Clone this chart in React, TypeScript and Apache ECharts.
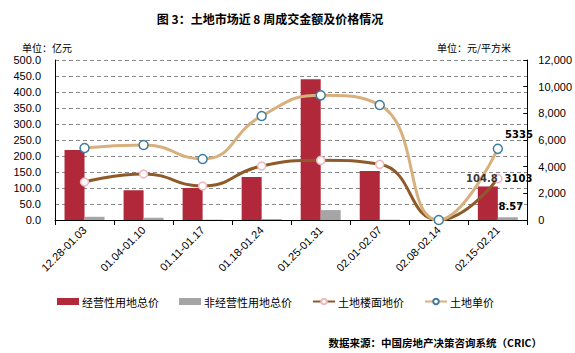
import React, { useEffect, useRef } from "react";
import * as echarts from "echarts";

const categories = ["12.28-01.03", "01.04-01.10", "01.11-01.17", "01.18-01.24", "01.25-01.31", "02.01-02.07", "02.08-02.14", "02.15-02.21"];
const operatingTotal = [219, 93, 100, 134, 440, 153, 0, 104.8];
const nonOperatingTotal = [10, 7, 1, 3, 31, 1, 0, 8.57];
const floorPrice = [2850, 3450, 2550, 4050, 4475, 4175, 0, 3103];
const unitPrice = [5400, 5625, 4575, 7800, 9350, 8625, 0, 5335];
const leftTicks = { min: 0, max: 500, interval: 50 };
const rightTicks = { min: 0, max: 12000, interval: 2000 };

const FONT = "'Noto Sans CJK SC', 'Liberation Sans', sans-serif";
const NUMFONT = "'Liberation Sans', Arial, sans-serif";

export default function App() {
  const ref = useRef<HTMLDivElement>(null);
  useEffect(() => {
    document.body.style.margin = "0";
    if (!ref.current) return;
    const chart = echarts.init(ref.current, null, { renderer: "svg" });
    const last = categories.length - 1;
    const lastLabel = (pos: string, offset: number[] = [0, 0]) => ({
      show: true,
      position: pos,
      offset,
      fontFamily: "'DejaVu Sans', sans-serif",
      fontSize: 10,
      fontWeight: "bold",
      color: "#000",
      distance: 3,
      formatter: (p: any) => (p.dataIndex === last ? String(p.value) : ""),
    });
    chart.setOption({
      animation: false,
      textStyle: { fontFamily: FONT },
      title: [
        { text: "图 3：土地市场近 8 周成交金额及价格情况", left: 265, top: 7, textAlign: "center", textStyle: { fontSize: 12, fontWeight: "bold", color: "#000", fontFamily: FONT } },
        { text: "单位：亿元", left: 17, top: 37, textStyle: { fontSize: 10, fontWeight: "normal", color: "#000", fontFamily: FONT } },
        { text: "单位：元/平方米", right: 59, top: 37, textStyle: { fontSize: 10, fontWeight: "normal", color: "#000", fontFamily: FONT } },
        { text: "数据来源：中国房地产决策咨询系统（CRIC）", right: 28, top: 332, textStyle: { fontSize: 10.5, fontWeight: "bold", color: "#000", fontFamily: FONT } },
      ],
      legend: {
        left: 52,
        top: 291,
        itemGap: 20,
        itemWidth: 22,
        itemHeight: 7,
        textStyle: { fontSize: 11, color: "#000", fontFamily: FONT, padding: [0, 0, 0, -2] },
        data: [
          { name: "经营性用地总价", icon: "rect" },
          { name: "非经营性用地总价", icon: "rect" },
          { name: "土地楼面地价" },
          { name: "土地单价" },
        ],
      },
      grid: { left: 55, right: 47, top: 60, bottom: 133, containLabel: false },
      xAxis: {
        type: "category",
        data: categories,
        axisLine: { lineStyle: { color: "#000" } },
        axisTick: { show: true, alignWithLabel: false, lineStyle: { color: "#000" }, length: 5 },
        axisLabel: { rotate: 45, color: "#000", fontSize: 11, fontFamily: NUMFONT, interval: 0, margin: 8 },
      },
      yAxis: [
        {
          type: "value",
          ...leftTicks,
          axisLine: { show: true, lineStyle: { color: "#000" } },
          axisTick: { show: false },
          splitLine: { lineStyle: { color: "#888", type: [4, 3] } },
          axisLabel: { color: "#000", fontSize: 11, fontFamily: NUMFONT, formatter: (v: number) => v.toFixed(1), margin: 14 },
        },
        {
          type: "value",
          ...rightTicks,
          position: "right",
          axisLine: { show: true, lineStyle: { color: "#000" } },
          axisTick: { show: true, inside: true, length: 4, lineStyle: { color: "#000" } },
          splitLine: { show: false },
          axisLabel: { color: "#000", fontSize: 11, fontFamily: NUMFONT, margin: 11 },
        },
      ],
      series: [
        {
          name: "经营性用地总价",
          type: "bar",
          data: operatingTotal,
          yAxisIndex: 0,
          barWidth: 20,
          barGap: "0%",
          itemStyle: { color: "#B0283A" },
        },
        {
          name: "非经营性用地总价",
          type: "bar",
          data: nonOperatingTotal,
          yAxisIndex: 0,
          barWidth: 20,
          barGap: "0%",
          itemStyle: { color: "#A5A5A5" },
          label: lastLabel("top", [3, -3]),
        },
        {
          name: "土地楼面地价",
          type: "line",
          data: floorPrice,
          yAxisIndex: 1,
          smooth: true,
          symbol: "circle",
          symbolSize: 8,
          lineStyle: { color: "#8F5A2A", width: 3 },
          itemStyle: { color: "#fff", borderColor: "#F0B8BC", borderWidth: 1.5 },
          label: lastLabel("right", [-1, 0]),
        },
        {
          name: "土地单价",
          type: "line",
          data: unitPrice,
          yAxisIndex: 1,
          smooth: true,
          symbol: "circle",
          symbolSize: 9,
          lineStyle: { color: "#D8B07E", width: 3 },
          itemStyle: { color: "#fff", borderColor: "#3E7C9E", borderWidth: 1.5 },
          label: lastLabel("right", [-1, -14]),
        },
        {
          name: "operatingLabel",
          type: "scatter",
          data: operatingTotal,
          yAxisIndex: 0,
          symbolSize: 0,
          silent: true,
          z: 10,
          label: lastLabel("top", [-16, 0]),
        },
      ],
    });
    return () => chart.dispose();
  }, []);
  return <div ref={ref} style={{ position: "absolute", left: 0, top: 0, width: 575, height: 353 }} />;
}
